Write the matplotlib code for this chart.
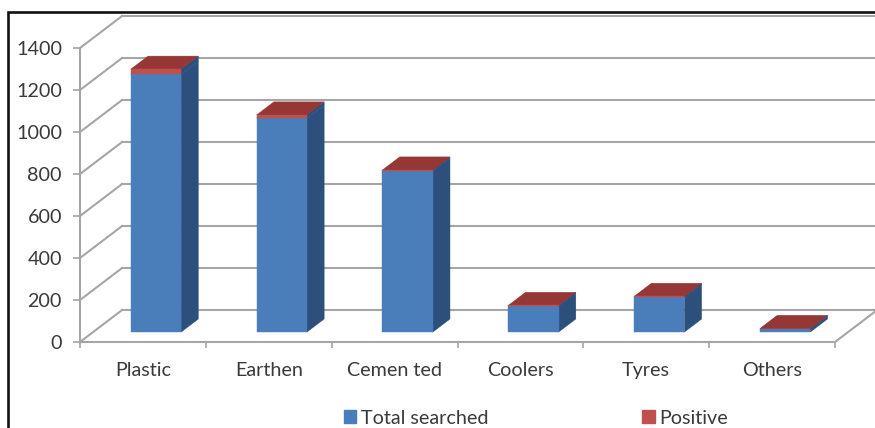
import numpy as np
import matplotlib
matplotlib.use("Agg")
import matplotlib.pyplot as plt
from matplotlib.patches import Patch, Rectangle

plt.rcParams['font.family'] = ['Lato', 'DejaVu Sans']

categories = ['Plastic', 'Earthen', 'Cemen ted', 'Coolers', 'Tyres', 'Others']
total_searched = [1228, 1019, 767, 124, 167, 15]
positive = [24, 15, 5, 3, 3, 2]
y_ticks = [0, 200, 400, 600, 800, 1000, 1200, 1400]

W, H = 875, 428
GRID = '#a6a6a6'
TEXT = '#3a3a3a'
BLUE = ('#4a7ebb', '#2c4f7c', '#4a7ebb')
RED = ('#c0504d', '#2c4f7c', '#953735')
FONT_SIZE = 14.2

# oblique depth of the chart box, in data units
DEPTH_X = 42 / (755 / 6)
DEPTH_Y = 152
BAR_W = 0.40
BAR_D0, BAR_D1 = 0.31, 0.72


def proj(x, y, d):
    return x + d * DEPTH_X, y + d * DEPTH_Y


def draw_box(ax, i, y0, y1, colors):
    front, side, top = colors
    x0, x1 = i + 0.5 - BAR_W / 2, i + 0.5 + BAR_W / 2
    a = proj(x0, y0, BAR_D0)
    b = proj(x1, y0, BAR_D0)
    c = proj(x1, y1, BAR_D0)
    d = proj(x0, y1, BAR_D0)
    e = proj(x1, y0, BAR_D1)
    f = proj(x1, y1, BAR_D1)
    g = proj(x0, y1, BAR_D1)
    for pts, col in (([b, e, f, c], side), ([d, c, f, g], top), ([a, b, c, d], front)):
        xs, ys = zip(*pts)
        ax.fill(xs, ys, color=col, lw=0.3, clip_on=False, zorder=3)


fig = plt.figure(figsize=(W / 100, H / 100), dpi=100)
ax = fig.add_axes([80 / W, 1 - 342 / H, 755 / W, 294 / H])
ax.set_xlim(0, 6)
ax.set_ylim(0, 1400)

# walls and floor
for v in y_ticks:
    bx, by = proj(0, v, 1)
    ax.plot([0, bx], [v, by], color=GRID, lw=1.5, clip_on=False, zorder=1)
    ax.plot([bx, 6 + DEPTH_X], [by, by], color=GRID, lw=1.5, clip_on=False, zorder=1)
rx, ry = proj(6, 0, 1)
ax.plot([6, rx], [0, ry], color=GRID, lw=1.5, clip_on=False, zorder=1)

for i in range(len(categories)):
    draw_box(ax, i, 0, total_searched[i], BLUE)
    draw_box(ax, i, total_searched[i], total_searched[i] + positive[i], RED)

for name in ('top', 'right'):
    ax.spines[name].set_visible(False)
for name in ('left', 'bottom'):
    ax.spines[name].set_color(GRID)
    ax.spines[name].set_linewidth(1.5)
ax.patch.set_visible(False)

ax.set_yticks(y_ticks)
ax.set_xticks(range(7))
ax.set_xticklabels([])
ax.set_xticks(np.arange(6) + 0.5, minor=True)
ax.set_xticklabels(categories, minor=True)
ax.tick_params(axis='x', which='major', length=4, width=1.2, color=GRID)
ax.tick_params(axis='x', which='minor', length=0, pad=14.5, labelsize=FONT_SIZE, labelcolor=TEXT)
ax.tick_params(axis='y', length=5, width=1.2, color=GRID, pad=8, labelsize=FONT_SIZE, labelcolor=TEXT)

handles = [Patch(color='#4a7ebb', label='Total searched'),
           Patch(color='#c0504d', label='Positive')]
fig.legend(handles=handles, ncol=2, frameon=False, fontsize=FONT_SIZE, labelcolor=TEXT,
           loc='center left', bbox_to_anchor=(344 / W, 1 - 418 / H),
           handlelength=0.62, handleheight=0.62, handletextpad=0.25,
           columnspacing=7.8, borderpad=0, borderaxespad=0)

# black frame, running off the right and bottom edges
fig.add_artist(Rectangle((7.5 / W, -0.1), 1, 1 - 11.5 / H + 0.1, transform=fig.transFigure,
                         fill=False, edgecolor='#111111', lw=1.9))

fig.savefig('out.png', dpi=100)
